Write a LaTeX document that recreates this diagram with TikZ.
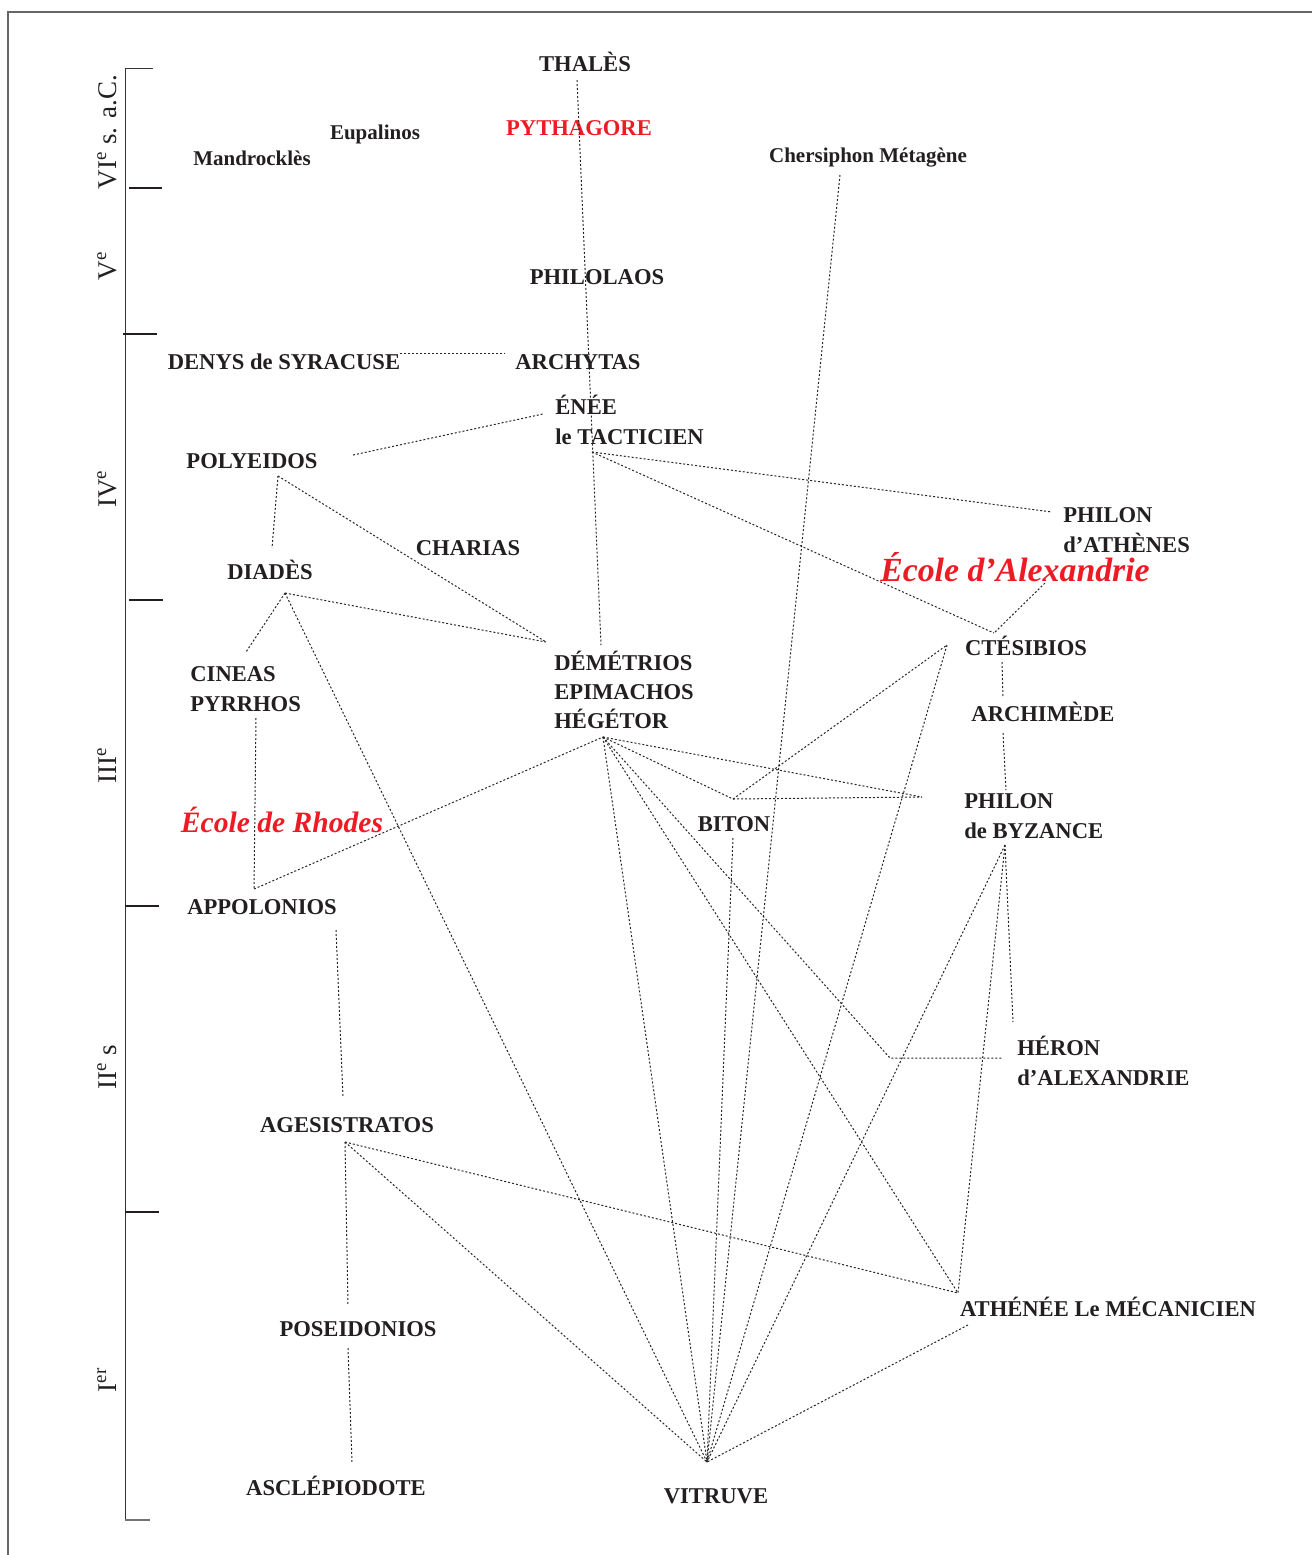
\documentclass[tikz,border=0pt]{standalone}
\usepackage{fontspec}
\setmainfont{Liberation Serif}
\definecolor{ink}{HTML}{231F20}
\definecolor{inkred}{HTML}{ED1C24}

\begin{document}
\begin{tikzpicture}[x=0.5pt,y=-0.5pt]
\tikzset{
    person/.style={font=\bfseries\fontsize{11.3}{14.7}\selectfont, text=ink, inner sep=0pt, anchor=base},
    minor/.style={font=\bfseries\fontsize{10.5}{13}\selectfont, text=ink, inner sep=0pt, anchor=base},
    school/.style={font=\bfseries\itshape\fontsize{#1}{#1}\selectfont, text=inkred, inner sep=0pt, anchor=base},
    era/.style={font=\fontsize{13.5}{16}\selectfont, text=ink, rotate=90, inner sep=0pt},
    link/.style={draw=black!85, line width=0.5pt, dash pattern=on 1pt off 1pt},
    cent/.style={draw=ink, line width=1pt}
}
\useasboundingbox (0,0) rectangle (1312,1555);

% frame and time axis
\draw[black!60, line width=0.6pt] (8,1555) -- (8,12) -- (1312,12);
\draw[black!80, line width=0.5pt] (153,68) -- (125,68) -- (125,1520);
\draw[black!55, line width=0.8pt] (125,1520) -- (150,1520);
\foreach \y/\a/\b in {188/129/162, 334/123/157, 600/129/163, 906/125/159, 1212/125/159}
  \draw[cent] (\a,\y) -- (\b,\y);
\foreach \y/\t in {132/{VI\textsuperscript{e} s. a.C.}, 266/{V\textsuperscript{e}}, 489/{IV\textsuperscript{e}},
                   765/{III\textsuperscript{e}}, 1067/{II\textsuperscript{e} s}, 1380/{I\textsuperscript{er}}}
  \node[era] (era-\y) at (107,\y) {\t};

% names
\node[person] (thales) at (585,71) {THALÈS};
\node[person, text=inkred] (pythagore) at (579,135) {PYTHAGORE};
\node[minor] (eupalinos) at (375,139) {Eupalinos};
\node[minor] (mandrocles) at (252,165) {Mandrocklès};
\node[minor] (chersiphon) at (868,162) {Chersiphon Métagène};
\node[person] (philolaos) at (597,284) {PHILOLAOS};
\node[person] (denys) at (284,369) {DENYS de SYRACUSE};
\node[person] (archytas) at (578,369) {ARCHYTAS};
\node[person, align=left, anchor=west] (enee) at (555,420) {ÉNÉE\\le TACTICIEN};
\node[person] (polyeidos) at (252,468) {POLYEIDOS};
\node[person, align=left, anchor=west] (philonA) at (1063,530) {PHILON\\d’ATHÈNES};
\node[person] (charias) at (468,555) {CHARIAS};
\node[person] (diades) at (270,579) {DIADÈS};
\node[school=16.9] (alexandrie) at (1015,581) {École d’Alexandrie};
\node[person] (ctesibios) at (1026,655) {CTÉSIBIOS};
\node[person, align=left, anchor=west] (cineas) at (190,689) {CINEAS\\PYRRHOS};
\node[person, align=left, anchor=west] (demetrios) at (554,690) {DÉMÉTRIOS\\EPIMACHOS\\HÉGÉTOR};
\node[person] (archimede) at (1043,721) {ARCHIMÈDE};
\node[person, align=left, anchor=west] (philonB) at (964,816) {PHILON\\de BYZANCE};
\node[school=14.8] (rhodes) at (282,832) {École de Rhodes};
\node[person] (biton) at (734,831) {BITON};
\node[person] (apollonios) at (262,914) {APPOLONIOS};
\node[person, align=left, anchor=west] (heron) at (1017,1061) {HÉRON\\d’ALEXANDRIE};
\node[person] (agesistratos) at (347,1132) {AGESISTRATOS};
\node[person] (athenee) at (1108,1316) {ATHÉNÉE Le MÉCANICIEN};
\node[person] (poseidonios) at (358,1336) {POSEIDONIOS};
\node[person] (asclepiodote) at (336,1495) {ASCLÉPIODOTE};
\node[person] (vitruve) at (716,1503) {VITRUVE};

% ends of the links
\coordinate (thales-b) at (577,80);
\coordinate (demet-t) at (601,645);
\coordinate (denys-e) at (400,353);
\coordinate (archy-w) at (505,353);
\coordinate (poly-e) at (353,455);
\coordinate (enee-w) at (543,414);
\coordinate (enee-b) at (592,452);
\coordinate (philA-w) at (1052,512);
\coordinate (ctes-n) at (994,633);
\coordinate (alex-s) at (1045,583);
\coordinate (poly-b) at (278,476);
\coordinate (diad-t) at (272,548);
\coordinate (demet-nw) at (546,642);
\coordinate (diad-b) at (285,593);
\coordinate (cineas-t) at (246,652);
\coordinate (cineas-b) at (256,718);
\coordinate (appol-t) at (254,889);
\coordinate (hege-b) at (603,737);
\coordinate (biton-t) at (733,799);
\coordinate (byz-w) at (922,797);
\coordinate (ctes-w) at (947,645);
\coordinate (biton-b) at (733,838);
\coordinate (vitr-t) at (707,1462);
\coordinate (cher-b) at (840,175);
\coordinate (ctes-s) at (1002,662);
\coordinate (archi-t) at (1003,697);
\coordinate (archi-b) at (1003,733);
\coordinate (byz-t) at (1006,790);
\coordinate (byz-b) at (1005,845);
\coordinate (heron-t) at (1013,1022);
\coordinate (heron-w) at (1003,1058);
\coordinate (heron-c) at (890,1058);
\coordinate (athen-n) at (958,1293);
\coordinate (athen-s) at (968,1325);
\coordinate (appol-b) at (336,930);
\coordinate (ages-t) at (343,1097);
\coordinate (ages-b) at (345,1142);
\coordinate (pos-t) at (348,1305);
\coordinate (pos-b) at (348,1348);
\coordinate (ascl-t) at (352,1462);

% links
\draw[link] (thales-b) -- (demet-t);
\draw[link] (denys-e) -- (archy-w);
\draw[link] (poly-e) -- (enee-w);
\draw[link] (enee-b) -- (philA-w);
\draw[link] (enee-b) -- (ctes-n);
\draw[link] (alex-s) -- (ctes-n);
\draw[link] (poly-b) -- (diad-t);
\draw[link] (poly-b) -- (demet-nw);
\draw[link] (diad-b) -- (demet-nw);
\draw[link] (diad-b) -- (cineas-t);
\draw[link] (diad-b) -- (vitr-t);
\draw[link] (cineas-b) -- (appol-t);
\draw[link] (appol-t) -- (hege-b);
\draw[link] (hege-b) -- (biton-t);
\draw[link] (hege-b) -- (byz-w);
\draw[link] (hege-b) -- (vitr-t);
\draw[link] (hege-b) -- (heron-c) -- (heron-w);
\draw[link] (hege-b) -- (athen-n);
\draw[link] (biton-t) -- (byz-w);
\draw[link] (biton-t) -- (ctes-w);
\draw[link] (ctes-w) -- (vitr-t);
\draw[link] (biton-b) -- (vitr-t);
\draw[link] (cher-b) -- (vitr-t);
\draw[link] (ctes-s) -- (archi-t);
\draw[link] (archi-b) -- (byz-t);
\draw[link] (byz-b) -- (heron-t);
\draw[link] (byz-b) -- (vitr-t);
\draw[link] (byz-b) -- (athen-n);
\draw[link] (athen-s) -- (vitr-t);
\draw[link] (appol-b) -- (ages-t);
\draw[link] (ages-b) -- (pos-t);
\draw[link] (ages-b) -- (vitr-t);
\draw[link] (ages-b) -- (athen-n);
\draw[link] (pos-b) -- (ascl-t);
\end{tikzpicture}
\end{document}
